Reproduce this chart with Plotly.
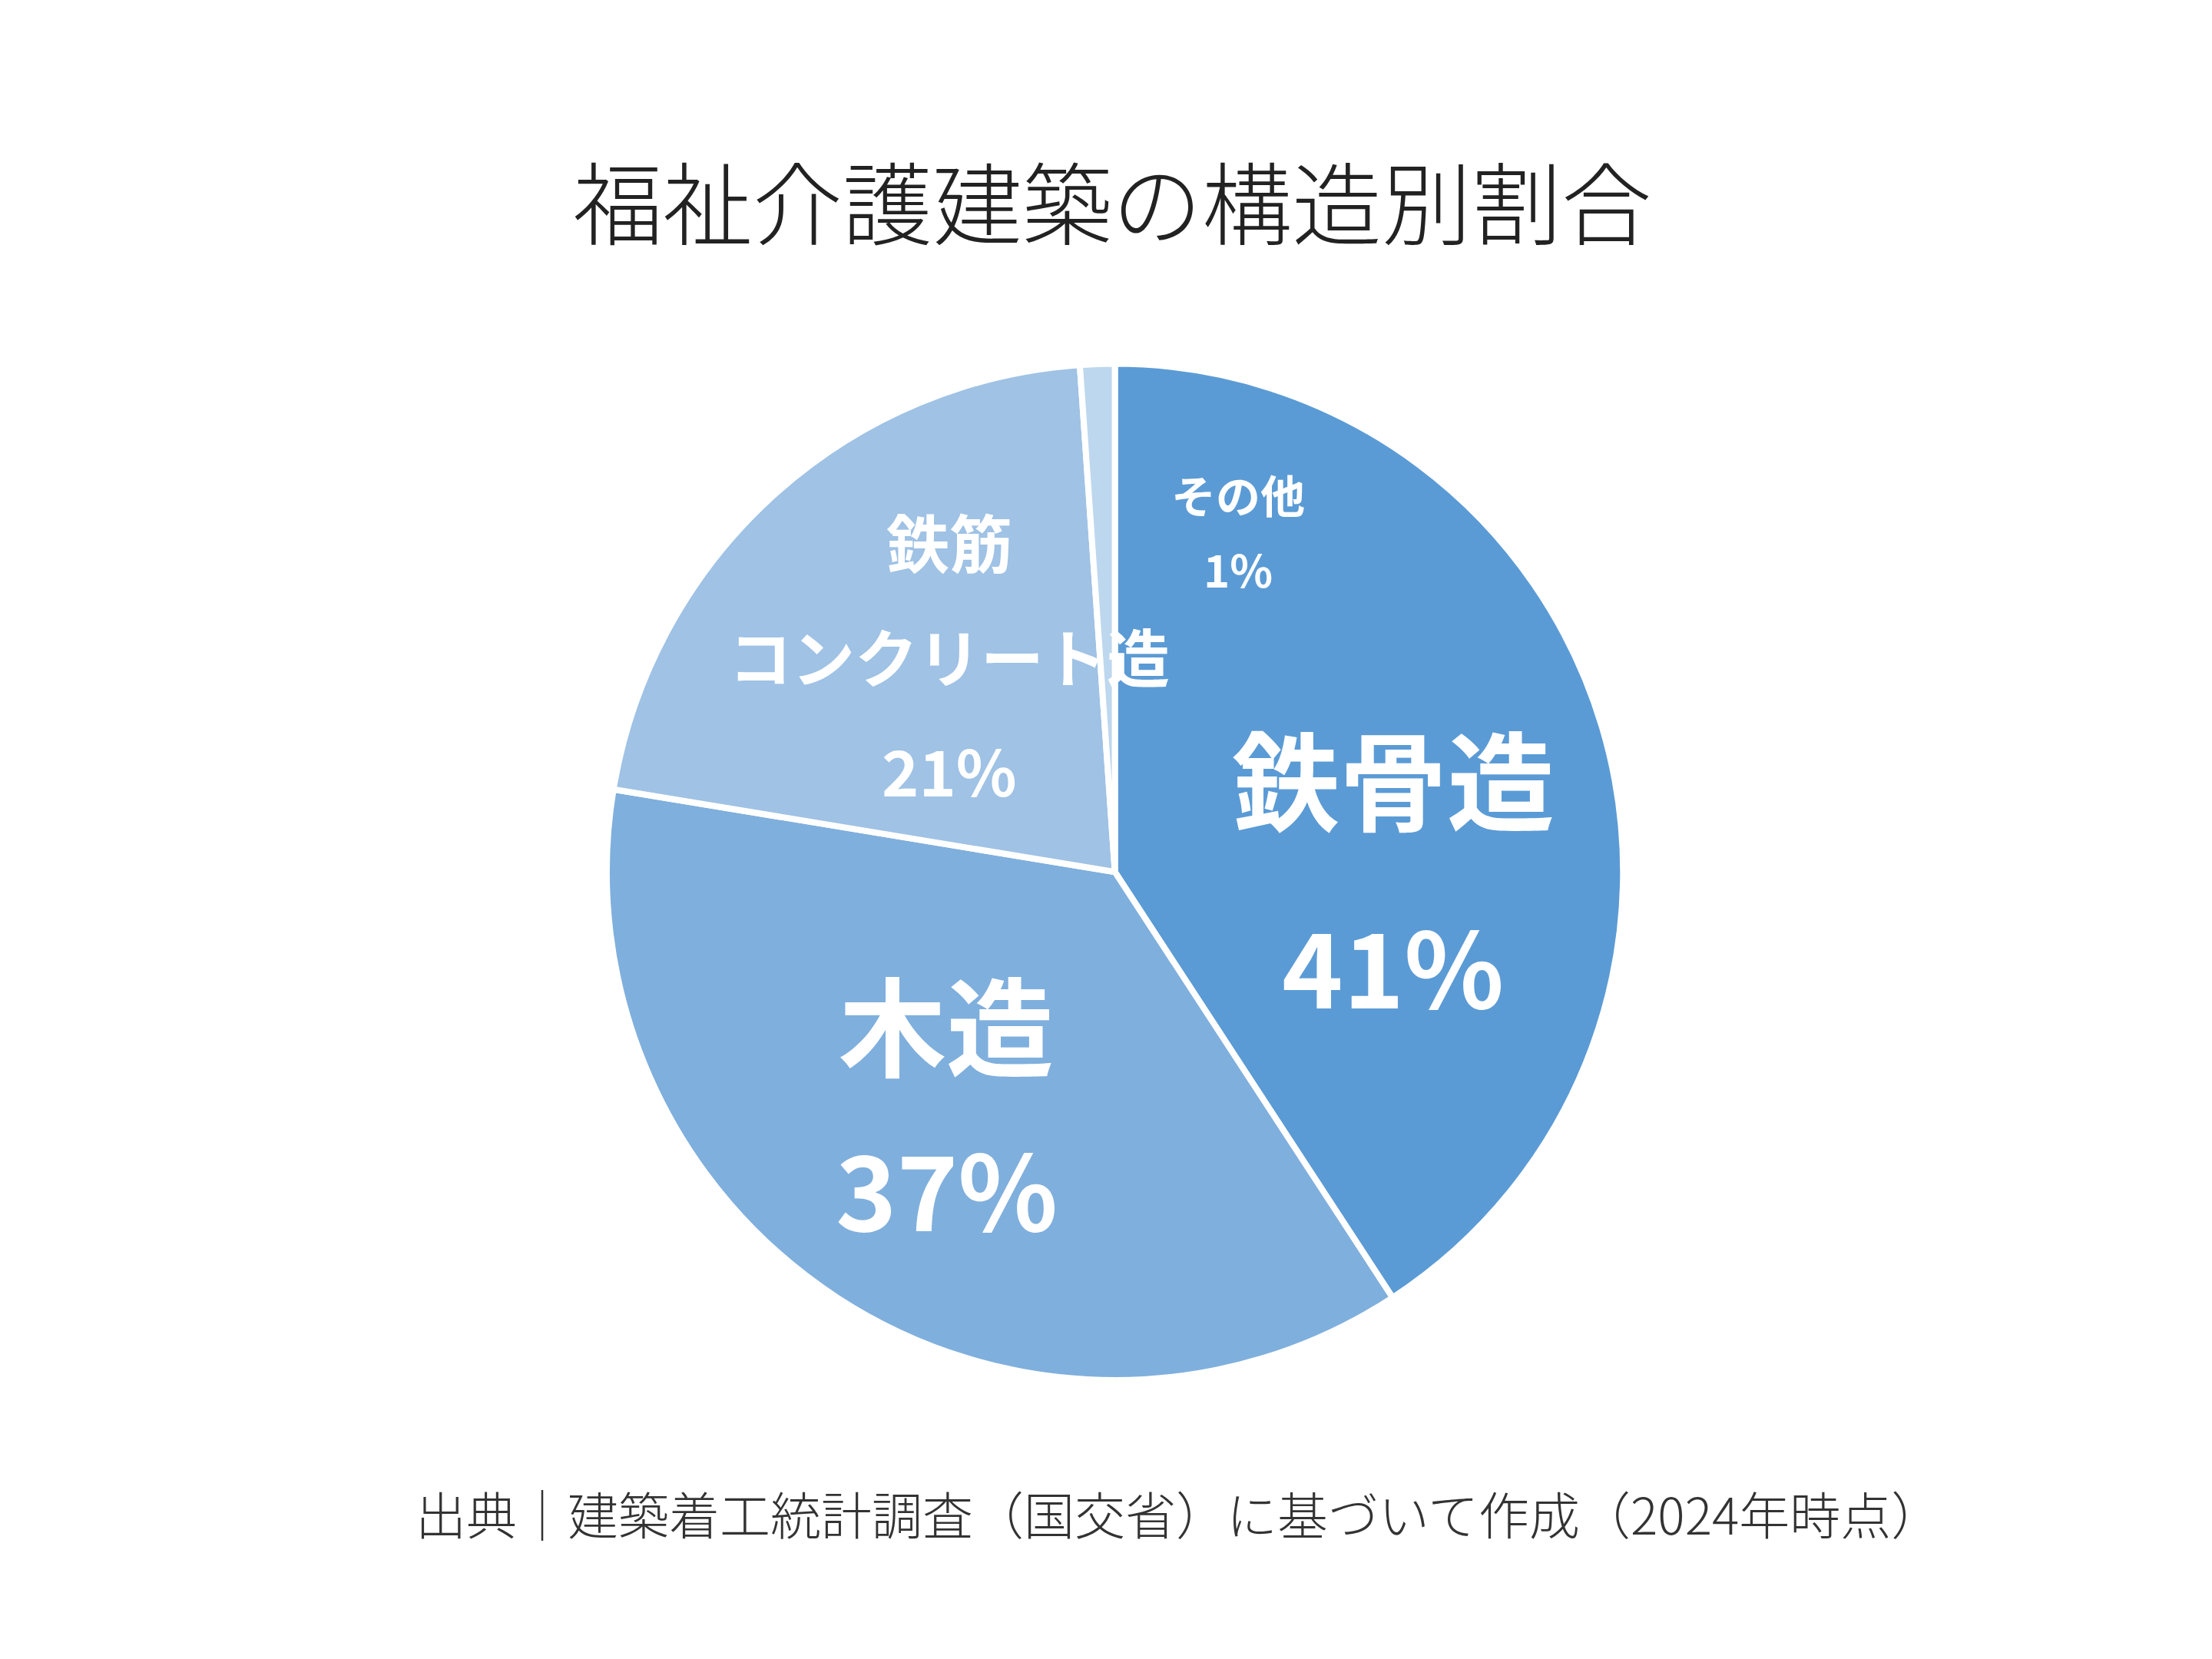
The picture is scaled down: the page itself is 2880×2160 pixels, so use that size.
import plotly.graph_objects as go

labels = ["鉄骨造", "木造", "鉄筋コンクリート造", "その他"]
values = [40.8, 36.8, 21.3, 1.1]
pct_text = ["41%", "37%", "21%", "1%"]
colors = ["#5B9BD5", "#7FAFDD", "#9FC2E5", "#BDD7EE"]

FONT = "Noto Sans CJK JP"
fig = go.Figure(go.Pie(
    labels=labels, values=values, sort=False, direction="clockwise", rotation=0,
    marker=dict(colors=colors, line=dict(color="white", width=8)),
    textinfo="none", hoverinfo="label+percent", showlegend=False,
    domain=dict(x=[0.2715, 0.731], y=[0.1716, 0.7846]),
))

anns = []
def add(text, x, y, size):
    anns.append(dict(text=text, x=x, y=y, xref="paper", yref="paper", showarrow=False,
                     xanchor="center", yanchor="middle",
                     font=dict(family=FONT, size=size, color="white", weight="bold")))

add(labels[0], 0.627, 0.536, 140); add(pct_text[0], 0.627, 0.423, 135)
add(labels[1], 0.425, 0.388, 140); add(pct_text[1], 0.425, 0.289, 135)
add("鉄筋", 0.4265, 0.678, 82); add("コンクリート造", 0.4265, 0.609, 82); add(pct_text[2], 0.4265, 0.540, 82)
add(labels[3], 0.557, 0.706, 58); add(pct_text[3], 0.557, 0.661, 58)

anns.append(dict(text="出典｜建築着工統計調査（国交省）に基づいて作成（2024年時点）", x=0.530, y=0.092,
                 xref="paper", yref="paper", showarrow=False, xanchor="center", yanchor="middle",
                 font=dict(family=FONT, size=66, color="#333333", weight=300)))

fig.update_layout(
    width=2880, height=2160, paper_bgcolor="white", plot_bgcolor="white",
    margin=dict(l=0, r=0, t=0, b=0),
    title=dict(text="福祉介護建築の構造別割合", x=0.5, xanchor="center", y=0.879, yanchor="middle",
               font=dict(family=FONT, size=117, color="#222222", weight=300)),
    annotations=anns,
)
fig.write_html("out.html")
